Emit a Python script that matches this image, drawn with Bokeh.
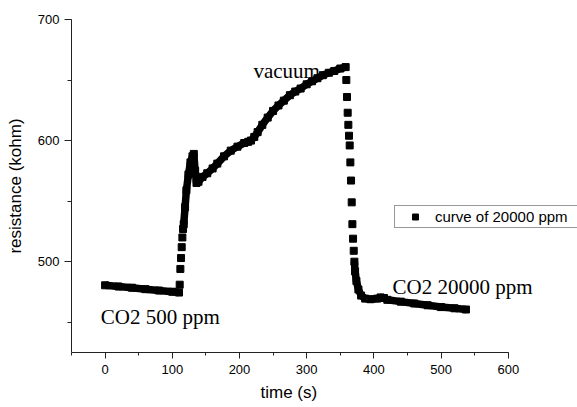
from bokeh.plotting import figure
from bokeh.models import (Range1d, SingleIntervalTicker, Legend, LegendItem, Label, Title)
from bokeh.embed import file_html
from bokeh.resources import INLINE

# ---- data (time in s, resistance in kohm) ----
# dense (continuous) parts of the curve
t_base = [0, 20, 40, 60, 80, 100, 110]
r_base = [480.5, 479.5, 478.5, 477.3, 476.2, 475.2, 474.5]

t_up = [117, 119, 121, 124, 127, 130, 132, 134, 136, 139, 145, 152, 160, 167, 177, 187,
        197, 207, 213, 217, 222, 227, 234, 242, 250, 258, 266, 275, 283, 291, 300, 308,
        316, 324, 333, 341, 350, 358]
r_up = [531, 545, 559, 572, 582, 587, 589, 575, 565, 566, 570, 573, 577, 581, 587, 591.7,
        595, 598, 599, 600, 603, 607, 613, 619, 624.5, 629, 633, 637.5, 640.5, 643, 646.5, 649,
        651.5, 654, 656, 657.5, 659.5, 660.7]

t_rec = [371, 372, 374, 377, 381, 387, 395, 405, 410, 415, 420, 440, 460, 480, 500, 520, 537]
r_rec = [500, 492, 484, 477, 472, 469.5, 469, 469.5, 470.5, 470, 468.5, 467, 465.5, 464,
         462.5, 461.5, 460.5]

# sparse parts (separate square points)
t_rise = [111, 112, 113, 114, 115, 116]
r_rise = [481, 494, 503, 512, 520, 527]

t_fall = [359, 360, 361, 362, 363, 364, 365, 366, 367, 368, 369, 370]
r_fall = [650, 636, 623, 613, 604, 596, 582, 567, 549, 531, 519, 509]

series_name = "curve of 20000 ppm"
annotations = ["CO2 500 ppm", "vacuum", "CO2 20000 ppm"]
x_label = "time (s)"
y_label = "resistance (kohm)"

x_axis_min, x_axis_max = -50, 600
y_axis_min, y_axis_max = 425, 700
x_ticks_interval = 100
y_ticks_interval = 100

# ---- figure ----
# the frame runs to the right edge of the window; the x axis itself stops at 600
p = figure(width=577, height=407, output_backend="svg", toolbar_location=None,
           x_range=Range1d(x_axis_min, 703), y_range=Range1d(y_axis_min, y_axis_max),
           min_border_left=71, min_border_right=0, min_border_top=19, min_border_bottom=55)
p.outline_line_color = None
p.xgrid.visible = False
p.ygrid.visible = False
p.background_fill_color = "white"
p.border_fill_color = "white"

AX = "#222222"
for ax in (p.xaxis[0], p.yaxis[0]):
    ax.axis_line_color = AX
    ax.major_tick_line_color = AX
    ax.minor_tick_line_color = AX
    ax.major_tick_in = 0
    ax.minor_tick_in = 0
    ax.major_label_text_font = "Liberation Sans"
    ax.major_label_text_font_size = "13px"
    ax.major_label_text_color = "black"
    ax.axis_label_text_font = "Liberation Sans"
    ax.axis_label_text_font_size = "17px"
    ax.axis_label_text_font_style = "normal"
    ax.axis_label_text_color = "black"

p.xaxis.bounds = (x_axis_min, x_axis_max)
p.xaxis.ticker = SingleIntervalTicker(interval=x_ticks_interval, num_minor_ticks=2)
p.yaxis.ticker = SingleIntervalTicker(interval=y_ticks_interval, num_minor_ticks=2)
p.xaxis.major_tick_out = 6
p.xaxis.minor_tick_out = 3
p.yaxis.major_tick_out = 7
p.yaxis.minor_tick_out = 4
p.xaxis.major_label_standoff = 6
p.yaxis.major_label_standoff = 5
p.yaxis.axis_label = y_label
p.yaxis.axis_label_standoff = 10

# x axis title centred under the axis line (-50..600), not under the whole frame
p.add_layout(Title(text=x_label, align="left", offset=189, standoff=9,
                   text_font="Liberation Sans", text_font_size="17px",
                   text_font_style="normal", text_color="black"), "below")

LW = 7.5
MS = 7
for tt, rr in ((t_base, r_base), (t_up, r_up), (t_rec, r_rec)):
    p.line(tt, rr, line_color="black", line_width=LW)
    p.scatter(tt, rr, marker="square", size=MS, color="black")

sq = None
for tt, rr in ((t_rise, r_rise), (t_fall, r_fall)):
    sq = p.scatter(tt, rr, marker="square", size=MS, color="black")

legend = Legend(items=[LegendItem(label=series_name, renderers=[sq])],
                location=(323, 124), padding=2, spacing=0, margin=0,
                glyph_width=36, glyph_height=15, label_height=15, label_standoff=2,
                label_width=170,
                label_text_font="Liberation Sans", label_text_font_size="15px",
                label_text_color="black",
                border_line_color="#333333", border_line_width=1,
                background_fill_color="white", background_fill_alpha=1)
p.add_layout(legend)

label_pos = [(-6.4, 454), (220.8, 657.4), (427.7, 478.8)]
for txt, (lx, ly) in zip(annotations, label_pos):
    p.add_layout(Label(x=lx, y=ly, text=txt, text_font="Liberation Serif",
                       text_font_size="21px", text_color="black",
                       text_baseline="alphabetic", text_align="left"))

open("out.html", "w").write(file_html(p, INLINE))
